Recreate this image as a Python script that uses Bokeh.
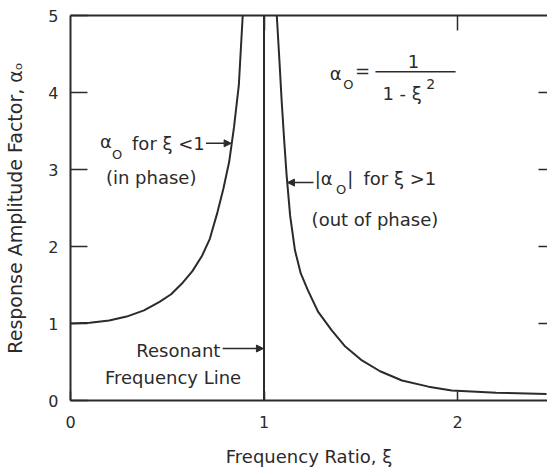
from bokeh.embed import file_html
from bokeh.models import (Arrow, ColumnDataSource, CustomLabelingPolicy,
                          FixedTicker, Label, LinearAxis, NormalHead, Range1d,
                          Span)
from bokeh.plotting import figure
from bokeh.resources import INLINE

# Response amplitude factor below resonance (in phase)
xi_in_phase = [0.0, 0.10, 0.20, 0.29, 0.38, 0.46, 0.52, 0.58, 0.63, 0.68,
               0.72, 0.76, 0.79, 0.82, 0.845, 0.87, 0.89]
amp_in_phase = [1.0, 1.01, 1.04, 1.09, 1.17, 1.28, 1.38, 1.53, 1.68, 1.88,
                2.10, 2.45, 2.75, 3.10, 3.55, 4.10, 5.0]

# Magnitude of the response amplitude factor above resonance (out of phase)
xi_out_phase = [1.066, 1.08, 1.091, 1.105, 1.117, 1.135, 1.16, 1.19, 1.227,
                1.28, 1.35, 1.42, 1.506, 1.60, 1.713, 1.85, 1.97, 2.20, 2.46]
amp_out_phase = [5.0, 4.4, 3.9, 3.35, 2.92, 2.40, 1.95, 1.65, 1.43,
                 1.15, 0.91, 0.70, 0.52, 0.38, 0.26, 0.18, 0.13, 0.10, 0.085]

resonance_ratio = 1.0

x_ticks = [0, 1, 2]
y_ticks = [0, 1, 2, 3, 4, 5]

INK = "#2b2b2b"
FONT = "DejaVu Sans"

# ticks that carry no label (top and right frame edges)
no_labels = CustomLabelingPolicy(
    code="for (const i of indices) { indices.unset(i) }\nreturn indices")

p = figure(width=547, height=472, output_backend="svg", toolbar_location=None,
           x_range=Range1d(0, 2.465), y_range=Range1d(0, 5),
           min_border_left=70, min_border_right=0, min_border_top=15,
           min_border_bottom=72)
p.outline_line_color = None
p.grid.visible = False
p.background_fill_color = "white"
p.border_fill_color = "white"

# bottom axis
xa = p.xaxis[0]
xa.ticker = FixedTicker(ticks=x_ticks)
xa.major_tick_in = 9
xa.major_tick_out = 0
xa.minor_tick_line_color = None
xa.axis_line_width = 2
xa.axis_line_color = INK
xa.major_tick_line_width = 1.5
xa.major_tick_line_color = INK
xa.major_label_standoff = 15
xa.major_label_text_font = FONT
xa.major_label_text_font_size = "16px"
xa.major_label_text_color = INK
xa.axis_label = "Frequency Ratio, ξ"
xa.axis_label_standoff = 15
xa.axis_label_text_font = FONT
xa.axis_label_text_font_size = "18px"
xa.axis_label_text_font_style = "normal"
xa.axis_label_text_color = INK

# left axis
ya = p.yaxis[0]
ya.ticker = FixedTicker(ticks=y_ticks)
ya.major_tick_in = 17
ya.major_tick_out = 0
ya.minor_tick_line_color = None
ya.axis_line_width = 2
ya.axis_line_color = INK
ya.major_tick_line_width = 1.5
ya.major_tick_line_color = INK
ya.major_label_standoff = 12
ya.major_label_text_font = FONT
ya.major_label_text_font_size = "16px"
ya.major_label_text_color = INK
ya.axis_label = "Response Amplitude Factor, αₒ"
ya.axis_label_standoff = 19
ya.axis_label_text_font = FONT
ya.axis_label_text_font_size = "19px"
ya.axis_label_text_font_style = "normal"
ya.axis_label_text_color = INK

# top frame with an inward tick
top = LinearAxis(ticker=FixedTicker(ticks=[1, 2]), major_tick_in=15,
                 major_tick_out=0, minor_tick_line_color=None,
                 axis_line_width=2, axis_line_color=INK,
                 major_tick_line_width=1.5, major_tick_line_color=INK,
                 major_label_policy=no_labels, major_label_standoff=0,
                 major_label_text_font_size="0px")
p.add_layout(top, "above")

# right side: ticks only
right = LinearAxis(ticker=FixedTicker(ticks=[1, 2, 3, 4]), major_tick_in=9,
                   major_tick_out=0, minor_tick_line_color=None,
                   axis_line_color=None, major_tick_line_width=1.5,
                   major_tick_line_color=INK,
                   major_label_policy=no_labels, major_label_standoff=0,
                   major_label_text_font_size="0px")
p.add_layout(right, "right")

# resonant frequency line
p.add_layout(Span(location=resonance_ratio, dimension="height",
                  line_color=INK, line_width=2))

src_in = ColumnDataSource(dict(x=xi_in_phase, y=amp_in_phase))
src_out = ColumnDataSource(dict(x=xi_out_phase, y=amp_out_phase))
p.line("x", "y", source=src_in, line_color=INK, line_width=2)
p.line("x", "y", source=src_out, line_color=INK, line_width=2)


def label(x, y, text, size="18px", align="left", baseline="middle"):
    p.add_layout(Label(x=x, y=y, text=text, text_font=FONT,
                       text_font_size=size, text_color=INK, text_align=align,
                       text_baseline=baseline))


def pointer(x0, x1, y):
    p.add_layout(Arrow(x_start=x0, y_start=y, x_end=x1, y_end=y,
                       line_color=INK, line_width=1.5,
                       end=NormalHead(size=7, fill_color=INK, line_color=INK)))


# in-phase branch note
label(0.152, 3.36, "α")
label(0.215, 3.20, "O", size="13px")
label(0.318, 3.34, "for ξ <1")
label(0.183, 2.90, "(in phase)")
pointer(0.70, 0.830, 3.34)

# out-of-phase branch note
label(1.262, 2.88, "|α")
label(1.372, 2.74, "O", size="13px")
label(1.430, 2.88, "|")
label(1.514, 2.88, "for ξ >1")
label(1.246, 2.35, "(out of phase)")
pointer(1.256, 1.121, 2.83)

# formula
label(1.340, 4.25, "α")
label(1.410, 4.10, "O", size="13px")
label(1.470, 4.29, "=")
label(1.773, 4.40, "1", align="center")
label(1.612, 3.99, "1 - ξ")
label(1.838, 4.11, "2", size="14px")
p.add_layout(Arrow(x_start=1.576, y_start=4.27, x_end=1.990, y_end=4.27,
                   line_color=INK, line_width=1.5, end=None))

# resonance note
label(0.340, 0.65, "Resonant")
label(0.178, 0.30, "Frequency Line")
pointer(0.786, 0.997, 0.675)

open("out.html", "w").write(file_html(p, INLINE))
